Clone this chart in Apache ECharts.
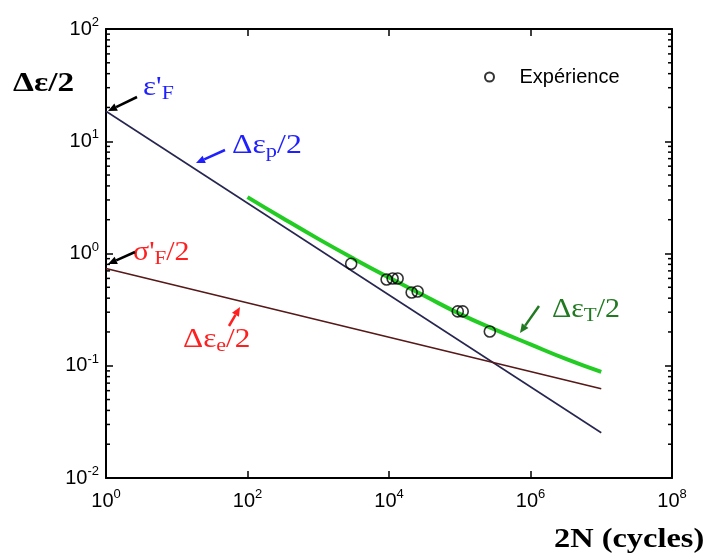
<!DOCTYPE html>
<html>
<head>
<meta charset="utf-8">
<script src="https://cdn.jsdelivr.net/npm/echarts@6/dist/echarts.min.js"></script>
<style>html,body{margin:0;padding:0;background:#fff;}#c{width:705px;height:559px;}</style>
</head>
<body>
<div id="c"></div>
<script>
// ---- data ----
var xTickExponents = [0, 2, 4, 6, 8];
var yTickExponents = [-2, -1, 0, 1, 2];
var plasticLine = [[1, 18.5], [1e7, 0.0253]];      // Δεp/2
var elasticLine = [[1, 0.735], [1e7, 0.0624]];     // Δεe/2
var totalN = [100, 316, 1000, 3162, 10000, 31623, 100000, 316228, 1000000, 3162278, 10000000];
var totalStrain = [3.18, 2.06, 1.35, 0.90, 0.61, 0.42, 0.29, 0.21, 0.155, 0.115, 0.088];
var expN = [2920, 9250, 11250, 13240, 20900, 25400, 93700, 110000, 266000];
var expStrain = [0.81, 0.587, 0.599, 0.599, 0.45, 0.459, 0.305, 0.305, 0.202];
var minorMultipliers = [2, 3, 4, 5, 6, 7, 8, 9];
var minorDecades = [0.01, 0.1, 1, 10];

var chart = echarts.init(document.getElementById('c'), null, {renderer: 'canvas'});

var LAB = '"Liberation Sans", Arial, sans-serif';
var SERIF = '"Liberation Serif", "Times New Roman", serif';

function pow10Label(v) {
  var e = Math.round(Math.log(v) / Math.LN10);
  return '{b|10}{s|' + e + '}';
}
var labelRich = {
  b: {fontSize: 20, fontFamily: LAB, color: '#000', lineHeight: 26},
  s: {fontSize: 13, fontFamily: LAB, color: '#000', verticalAlign: 'top', lineHeight: 26, padding: [0, 0, 13, 0]}
};

var minorVals = [];
minorDecades.forEach(function (d) { minorMultipliers.forEach(function (m) { minorVals.push([m * d]); }); });

var grid = {left: 106, right: 33, top: 29, bottom: 81};

function axisCommon() {
  return {
    type: 'log', logBase: 10,
    axisLine: {show: true, lineStyle: {color: '#000', width: 2}},
    axisTick: {show: true, inside: true, length: 7, lineStyle: {color: '#000', width: 1.5}},
    splitLine: {show: false},
    minorTick: {show: false}
  };
}

var xBottom = Object.assign(axisCommon(), {
  position: 'bottom', min: 1, max: 1e8, interval: 2,
  axisLabel: {formatter: pow10Label, rich: labelRich, margin: 10}
});
var xTop = Object.assign(axisCommon(), {
  position: 'top', min: 1, max: 1e8, interval: 2, axisLabel: {show: false}
});
var yLeft = Object.assign(axisCommon(), {
  position: 'left', min: 0.01, max: 100, interval: 1,
  axisLabel: {formatter: pow10Label, rich: labelRich, margin: 7}
});
var yRight = Object.assign(axisCommon(), {
  position: 'right', min: 0.01, max: 100, interval: 1, axisLabel: {show: false}
});

function arrow(x1, y1, x2, y2, color) {
  var ang = Math.atan2(y2 - y1, x2 - x1);
  var L = 9, W = 4;
  var bx = x2 - L * Math.cos(ang), by = y2 - L * Math.sin(ang);
  var px = -Math.sin(ang) * W, py = Math.cos(ang) * W;
  return [
    {type: 'line', shape: {x1: x1, y1: y1, x2: bx, y2: by}, style: {stroke: color, lineWidth: 2.5}, z: 100},
    {type: 'polygon', shape: {points: [[x2, y2], [bx + px, by + py], [bx - px, by - py]]}, style: {fill: color}, z: 100}
  ];
}

function gtext(x, y, color, size, text, sx) {
  var rich = {
    m: {fontFamily: SERIF, fontSize: size, fill: color},
    sub: {fontFamily: SERIF, fontSize: Math.round(size * 0.72), fill: color, verticalAlign: 'bottom', padding: [12, 0, 0, 0]},
    bold: {fontFamily: SERIF, fontSize: size, fontWeight: 'bold', fill: color}
  };
  return {type: 'text', x: x, y: y, z: 100, scaleX: sx || 1,
    style: {text: text, rich: rich, fill: color, verticalAlign: 'middle', align: 'left'}};
}

var blue = '#1f1fff', red = '#ff1f1f', dgreen = '#217a21';

var graphics = [];
graphics.push(gtext(13, 84, '#000', 28, '{bold|Δε/2}', 1.19));
graphics.push(gtext(554, 540, '#000', 27, '{bold|2N (cycles)}', 1.2));
graphics.push(gtext(143, 88, blue, 27, "{m|ε'}{sub|F}", 1.15));
graphics.push(gtext(232, 146, blue, 27, '{m|Δε}{sub|p}{m|/2}', 1.18));
graphics.push(gtext(133, 253, red, 27, "{m|σ'}{sub|F}{m|/2}", 1.11));
graphics.push(gtext(183, 340, red, 27, '{m|Δε}{sub|e}{m|/2}', 1.16));
graphics.push(gtext(552, 310, dgreen, 27, '{m|Δε}{sub|T}{m|/2}', 1.11));
graphics = graphics.concat(arrow(137, 97, 108, 111, '#000'));
graphics = graphics.concat(arrow(225, 150, 196, 163, blue));
graphics = graphics.concat(arrow(135, 252, 108, 264, '#000'));
graphics = graphics.concat(arrow(229, 326, 240, 307, red));
graphics = graphics.concat(arrow(539, 306, 520, 333, dgreen));

var option = {
  animation: false,
  backgroundColor: '#fff',
  grid: grid,
  xAxis: [xBottom, xTop],
  yAxis: [yLeft, yRight],
  legend: {
    data: ['Expérience'], left: 479, top: 62, itemWidth: 50, itemHeight: 9, itemGap: 4,
    textStyle: {fontFamily: LAB, fontSize: 20, color: '#000'}
  },
  graphic: graphics,
  series: [
    {type: 'line', name: 'plastic', data: plasticLine, symbol: 'none', lineStyle: {color: '#262650', width: 1.6}, z: 3},
    {type: 'line', name: 'elastic', data: elasticLine, symbol: 'none', lineStyle: {color: '#561818', width: 1.6}, z: 3},
    {type: 'line', name: 'total', data: totalN.map(function (n, i) { return [n, totalStrain[i]]; }), symbol: 'none', smooth: true,
      lineStyle: {color: '#22cc22', width: 4}, z: 4},
    {type: 'scatter', name: 'Expérience', data: expN.map(function (n, i) { return [n, expStrain[i]]; }),
      symbol: 'circle', symbolSize: 11,
      itemStyle: {color: 'rgba(0,0,0,0)', borderColor: '#000', borderWidth: 1.6}, z: 5},
    {type: 'custom', name: 'minor', data: minorVals, silent: true, z: 6,
      renderItem: function (params, api) {
        var v = api.value(0);
        var pl = api.coord([1, v]);
        var pr = api.coord([1e8, v]);
        return {type: 'group', children: [
          {type: 'line', shape: {x1: pl[0], y1: pl[1], x2: pl[0] + 4, y2: pl[1]}, style: {stroke: '#000', lineWidth: 1.5}},
          {type: 'line', shape: {x1: pr[0], y1: pr[1], x2: pr[0] - 4, y2: pr[1]}, style: {stroke: '#000', lineWidth: 1.5}}
        ]};
      },
      encode: {x: -1, y: 0}
    }
  ]
};
chart.setOption(option);
</script>
</body>
</html>
